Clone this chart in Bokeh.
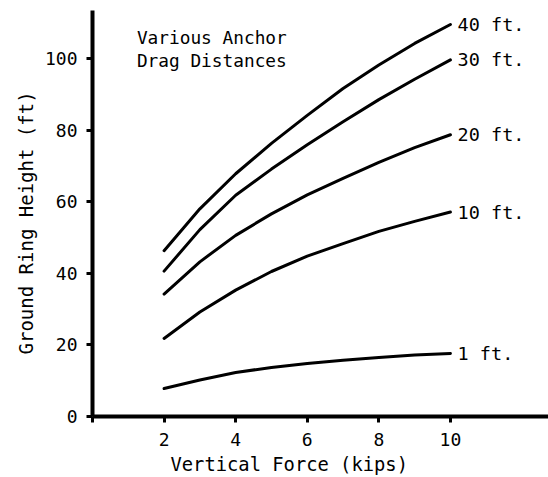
from bokeh.plotting import figure
from bokeh.models import Range1d, FixedTicker, Title
from bokeh.core.properties import value
from bokeh.embed import file_html
from bokeh.resources import INLINE

# ---- data ----
force_kips = [2, 3, 4, 5, 6, 7, 8, 9, 10]
height_40ft = [46.3, 58.0, 67.8, 76.3, 84.1, 91.6, 98.2, 104.2, 109.5]
height_30ft = [40.6, 52.2, 61.8, 69.1, 75.9, 82.3, 88.5, 94.2, 99.6]
height_20ft = [34.2, 43.2, 50.6, 56.6, 61.9, 66.5, 71.0, 75.1, 78.7]
height_10ft = [21.8, 29.2, 35.3, 40.5, 44.8, 48.3, 51.7, 54.5, 57.1]
height_1ft = [7.8, 10.2, 12.3, 13.7, 14.8, 15.7, 16.5, 17.2, 17.6]
series = [height_40ft, height_30ft, height_20ft, height_10ft, height_1ft]
series_labels = ["40 ft.", "30 ft.", "20 ft.", "10 ft.", "1 ft."]

x_ticks = [0, 2, 4, 6, 8, 10]
y_ticks = [0, 20, 40, 60, 80, 100]
title_lines = ["Various Anchor", "Drag Distances"]
x_title = "Vertical Force (kips)"
y_title = "Ground Ring Height (ft)"

FONT = "DejaVu Sans Mono"

p = figure(width=548, height=477, output_backend="svg", toolbar_location=None,
           x_range=Range1d(0, 12.74), y_range=Range1d(0, 113.4),
           min_border_left=92, min_border_right=0, min_border_top=10, min_border_bottom=61)
p.outline_line_color = None
p.xgrid.visible = False
p.ygrid.visible = False
p.background_fill_color = "white"
p.border_fill_color = "white"

for ax in (p.xaxis[0], p.yaxis[0]):
    ax.axis_line_width = 4
    ax.axis_line_color = "black"
    ax.major_tick_line_width = 3
    ax.major_tick_line_color = "black"
    ax.major_tick_out = 6
    ax.major_tick_in = 0
    ax.minor_tick_line_color = None
    ax.major_label_text_font = FONT
    ax.major_label_text_font_size = "18px"
    ax.major_label_text_color = "black"
    ax.major_label_standoff = 10

p.xaxis.ticker = FixedTicker(ticks=x_ticks)
p.xaxis.major_label_overrides = {0: ""}
p.yaxis.ticker = FixedTicker(ticks=y_ticks)
p.yaxis.major_label_standoff = 9

for ys in series:
    p.line(force_kips, ys, line_color="black", line_width=3, line_cap="round")

label_x = [force_kips[-1] + 0.2] * len(series)
label_y = [ys[-1] for ys in series]
p.text(label_x, label_y, text=series_labels, text_font=value(FONT), text_font_size="18.5px",
       text_baseline="middle", text_align="left", text_color="black")

p.text([1.24, 1.24], [105.9, 99.4], text=title_lines, text_font=value(FONT), text_font_size="17.8px",
       text_baseline="middle", text_align="left", text_color="black")

p.add_layout(Title(text=x_title, align="left", offset=78, standoff=6, text_font=FONT,
                   text_font_size="18.8px", text_font_style="normal", text_color="black"), "below")
p.add_layout(Title(text=y_title, align="left", offset=62, standoff=10, text_font=FONT,
                   text_font_size="19px", text_font_style="normal", text_color="black"), "left")

open("out.html", "w").write(file_html(p, INLINE))
